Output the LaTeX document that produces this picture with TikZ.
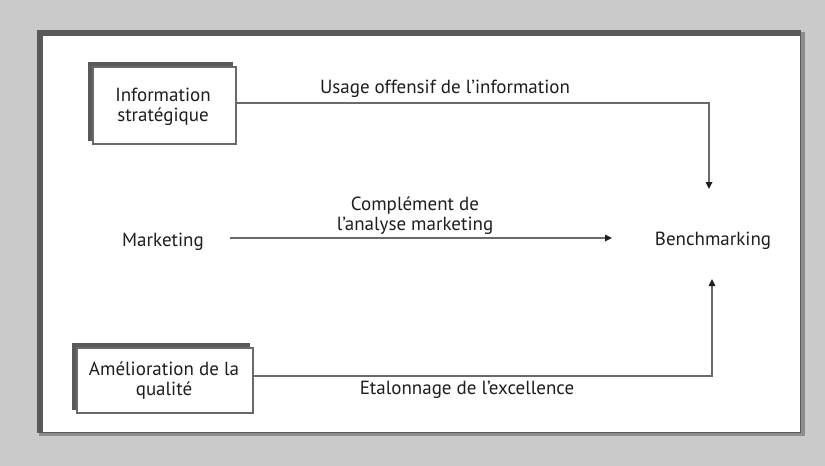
\documentclass[tikz,border=0pt]{standalone}
\usepackage{fontspec}
\setmainfont{PT Sans}
\usetikzlibrary{arrows.meta}
\definecolor{bgpage}{HTML}{CACACA}
\definecolor{framedark}{HTML}{5A5A5A}
\definecolor{framemid}{HTML}{8E8E8E}
\definecolor{linegray}{HTML}{6A6A6A}
\definecolor{ink}{HTML}{1E1E1E}
\begin{document}
\begin{tikzpicture}[x=1pt,y=-1pt,
  txt/.style={font=\fontsize{19}{20}\selectfont, text=ink, align=center, inner sep=0pt},
  conn/.style={draw=linegray, line width=1.6pt},
  arr/.style={conn, -{Triangle[length=7pt,width=6.5pt,color=ink]}}]
  % page background and bounding box
  \fill[bgpage] (0,0) rectangle (825,466);
  \useasboundingbox (0,0) rectangle (825,466);
  % sunken frame
  \fill[framemid] (39,32) rectangle (805,436);
  \fill[framedark] (37,30) rectangle (801,433);
  \fill[white] (43,36) rectangle (800,432);

  % boxed sources with a heavy top-left edge
  \fill[framedark] (88,62) rectangle (233,141);
  \filldraw[fill=white, draw=linegray, line width=1.4pt] (93,67) rectangle (236,144);
  \node[txt] (info) at (163,107) {Information\\stratégique};
  \coordinate (infoE) at (236,103);

  \fill[framedark] (72,343) rectangle (250,410);
  \filldraw[fill=white, draw=linegray, line width=1.4pt] (77,348) rectangle (253,413);
  \node[txt] (qual) at (164,381) {Amélioration de la\\qualité};
  \coordinate (qualE) at (253,376);

  \node[txt] (mkt) at (163,242) {Marketing};
  \node[txt] (bench) at (713,241) {Benchmarking};

  % arrow ends around the target
  \coordinate (benchN) at (709,189);
  \coordinate (benchS) at (712,279);
  \coordinate (benchW) at (612,238);
  \coordinate (mktE) at (230,238);

  % connectors
  \draw[arr] (infoE) -| (benchN);
  \draw[arr] (mktE) -- (benchW);
  \draw[arr] (qualE) -| (benchS);

  % connector labels
  \node[txt] (l1) at (445,89) {Usage offensif de l'information};
  \node[txt] (l2) at (415,216) {Complément de\\l'analyse marketing};
  \node[txt] (l3) at (467,390) {Etalonnage de l'excellence};
\end{tikzpicture}
\end{document}
